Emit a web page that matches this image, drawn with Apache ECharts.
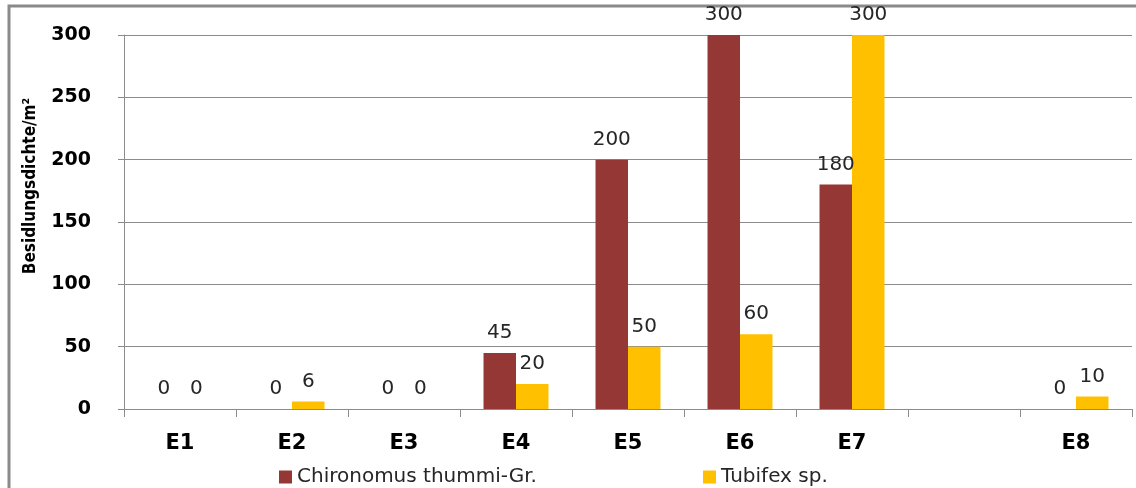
<!DOCTYPE html>
<html>
<head>
<meta charset="utf-8">
<script src="https://cdn.jsdelivr.net/npm/echarts@6/dist/echarts.min.js"></script>
<style>
  html, body { margin: 0; padding: 0; background: #fff; }
  #chart { width: 1136px; height: 488px; }
</style>
</head>
<body>
<div id="chart"></div>
<script>
// Sampling stations (one empty slot before E8)
const categories = ['E1', 'E2', 'E3', 'E4', 'E5', 'E6', 'E7', '', 'E8'];
const seriesNames = ['Chironomus thummi-Gr.', 'Tubifex sp.'];
const chironomus = [0, 0, 0, 45, 200, 300, 180, null, 0];
const tubifex = [0, 6, 0, 20, 50, 60, 300, null, 10];
const yTicks = [0, 50, 100, 150, 200, 250, 300];
const yTitle = 'Besidlungsdichte/m²';

const chart = echarts.init(document.getElementById('chart'));

const labelStyle = {
  show: true,
  position: 'top',
  distance: 10,
  color: '#262626',
  fontFamily: 'DejaVu Sans',
  fontSize: 20,
  formatter: p => (p.value == null ? '' : String(p.value))
};

const legendText = { fontFamily: 'DejaVu Sans', fontSize: 20, color: '#262626' };

chart.setOption({
  animation: false,
  backgroundColor: '#ffffff',
  grid: { left: 124, right: 4, top: 35, bottom: 79, containLabel: false },
  legend: [
    {
      data: [seriesNames[0]], left: 274, top: 462,
      itemWidth: 13, itemHeight: 13, icon: 'rect', textStyle: legendText
    },
    {
      data: [seriesNames[1]], left: 698, top: 462,
      itemWidth: 13, itemHeight: 13, icon: 'rect', textStyle: legendText
    }
  ],
  xAxis: {
    type: 'category',
    data: categories,
    boundaryGap: true,
    axisLine: { show: true, lineStyle: { color: '#8c8c8c', width: 1 } },
    axisTick: { show: true, interval: 0, length: 8, lineStyle: { color: '#8c8c8c' } },
    axisLabel: {
      interval: 0, margin: 24, color: '#000',
      fontFamily: 'DejaVu Sans', fontWeight: 'bold', fontSize: 21
    }
  },
  yAxis: {
    type: 'value',
    min: yTicks[0],
    max: yTicks[yTicks.length - 1],
    interval: yTicks[1] - yTicks[0],
    axisLine: { show: true, lineStyle: { color: '#8c8c8c', width: 1 } },
    axisTick: { show: true, length: 6, lineStyle: { color: '#8c8c8c' } },
    splitLine: { show: true, lineStyle: { color: '#8c8c8c', width: 1 } },
    axisLabel: {
      margin: 33, color: '#000',
      fontFamily: 'DejaVu Sans', fontWeight: 'bold', fontSize: 19
    }
  },
  series: [
    {
      name: seriesNames[0], type: 'bar', data: chironomus,
      itemStyle: { color: '#953735' },
      barGap: '0%', barCategoryGap: '42%',
      label: labelStyle
    },
    {
      name: seriesNames[1], type: 'bar', data: tubifex,
      itemStyle: { color: '#FFC000' },
      barGap: '0%', barCategoryGap: '42%',
      label: labelStyle
    }
  ],
  graphic: [
    {
      // outer frame: only the left and top edges lie inside the canvas
      type: 'polyline', silent: true,
      shape: { points: [[9, 488], [9, 6], [1136, 6]] },
      style: { fill: 'none', stroke: '#8a8a8a', lineWidth: 3 }
    },
    {
      type: 'text', silent: true,
      x: 31, y: 186, rotation: Math.PI / 2,
      style: {
        text: yTitle,
        fontFamily: 'DejaVu Sans Condensed',
        fontWeight: 'bold', fontSize: 17, fill: '#000',
        align: 'center', verticalAlign: 'middle'
      }
    }
  ]
});
</script>
</body>
</html>
